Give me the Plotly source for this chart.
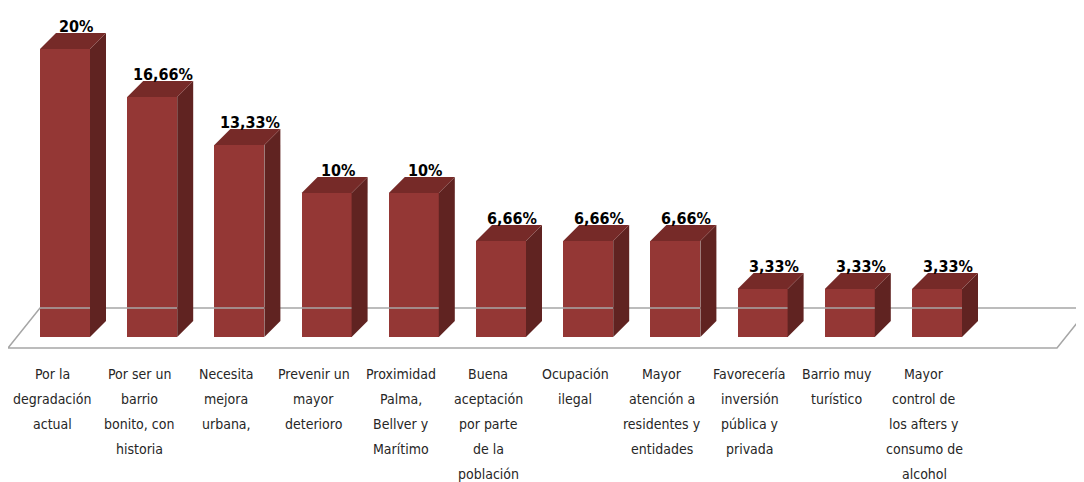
import plotly.graph_objects as go

categories = [
    "Por la<br>degradación<br>actual",
    "Por ser un<br>barrio<br>bonito, con<br>historia",
    "Necesita<br>mejora<br>urbana,",
    "Prevenir un<br>mayor<br>deterioro",
    "Proximidad<br>Palma,<br>Bellver y<br>Marítimo",
    "Buena<br>aceptación<br>por parte<br>de la<br>población",
    "Ocupación<br>ilegal",
    "Mayor<br>atención a<br>residentes y<br>entidades",
    "Favorecería<br>inversión<br>pública y<br>privada",
    "Barrio muy<br>turístico",
    "Mayor<br>control de<br>los afters y<br>consumo de<br>alcohol",
]
values = [20, 16.66, 13.33, 10, 10, 6.66, 6.66, 6.66, 3.33, 3.33, 3.33]
value_labels = ["20%", "16,66%", "13,33%", "10%", "10%", "6,66%", "6,66%", "6,66%", "3,33%", "3,33%", "3,33%"]

W, H = 1084, 482
OFF = 8  # page body margin
px_per_cat = 87.2
px_per_unit = 14.4
x0 = -(65 - OFF) / px_per_cat
x1 = x0 + W / px_per_cat
y1 = (49 - OFF) / px_per_unit + 20
y0 = y1 - H / px_per_unit

bw = 50 / px_per_cat
dx = 16 / px_per_cat
dy = 16 / px_per_unit

FRONT = "#943735"
SIDE = "#602321"
TOP = "#762a28"
FONT = "DejaVu Sans Condensed, Liberation Sans, sans-serif"

xs = list(range(len(values)))
fig = go.Figure()

# floor frame
fl_front = -11 / px_per_unit
fl_back = 29 / px_per_unit
fx_l = -(65 - 8) / px_per_cat
fx_r = (1057 - 65) / px_per_cat
fdx = 32 / px_per_cat
fig.add_trace(go.Scatter(
    x=[fx_l, fx_r, fx_r + fdx, fx_l + fdx, fx_l],
    y=[fl_front, fl_front, fl_back, fl_back, fl_front],
    mode="lines", line=dict(color="#a6a6a6", width=1.5),
    hoverinfo="skip", showlegend=False, cliponaxis=False))

fig.add_trace(go.Bar(x=xs, y=values, width=bw, marker=dict(color=FRONT, line=dict(width=0)),
                     showlegend=False, hoverinfo="skip"))

for i, v in zip(xs, values):
    r = i + bw / 2
    l = i - bw / 2
    fig.add_trace(go.Scatter(
        x=[r, r, r + dx, r + dx, r], y=[0, v, v + dy, dy, 0],
        fill="toself", fillcolor=SIDE, mode="lines", line=dict(width=0, color=SIDE),
        hoverinfo="skip", showlegend=False))
    fig.add_trace(go.Scatter(
        x=[l, r, r + dx, l + dx, l], y=[v, v, v + dy, v + dy, v],
        fill="toself", fillcolor=TOP, mode="lines", line=dict(width=0, color=TOP),
        hoverinfo="skip", showlegend=False))

annotations = []
for i, v, t in zip(xs, values, value_labels):
    annotations.append(dict(x=i + dx / 2, y=v + dy, text="<b>" + t + "</b>", showarrow=False,
                            xanchor="center", yanchor="bottom", xshift=3, yshift=-5,
                            font=dict(family=FONT, size=16, color="#000000")))

label_top = -27 / px_per_unit
line_gap = 25 / px_per_unit
for i, c in zip(xs, categories):
    for k, line in enumerate(c.split("<br>")):
        annotations.append(dict(x=i - 13 / px_per_cat, y=label_top - k * line_gap, text=line,
                                showarrow=False, xanchor="center", yanchor="top",
                                font=dict(family=FONT, size=14, color="#262626")))

fig.update_layout(
    width=W, height=H, margin=dict(l=0, r=0, t=0, b=0),
    paper_bgcolor="white", plot_bgcolor="white",
    xaxis=dict(range=[x0, x1], visible=False, fixedrange=True),
    yaxis=dict(range=[y0, y1], visible=False, fixedrange=True),
    annotations=annotations, bargap=0,
)
fig.write_html("out.html")
